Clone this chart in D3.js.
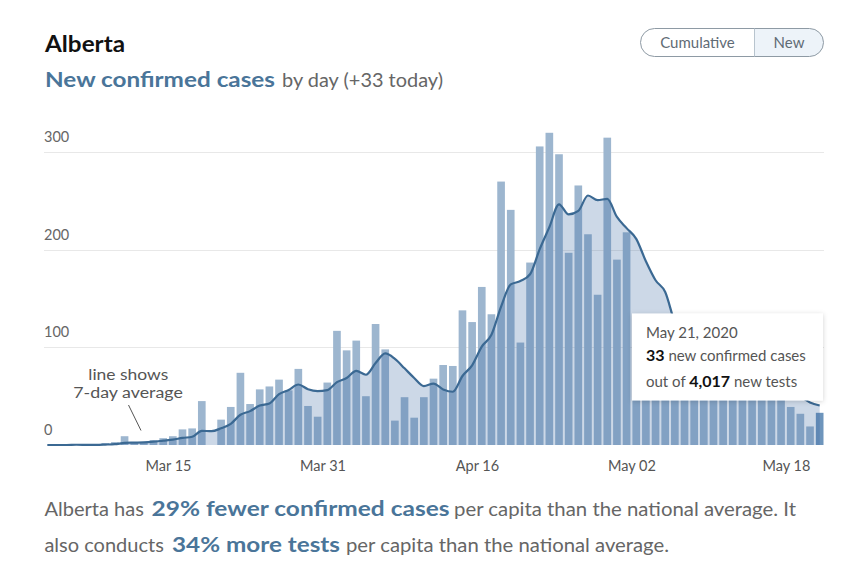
<!DOCTYPE html>
<html><head><meta charset="utf-8">
<script src="https://cdn.jsdelivr.net/npm/d3@7"></script>
<style>
html,body{margin:0;padding:0;background:#fff;}
svg{display:block;font-family:Lato,"Open Sans",sans-serif;}
</style></head>
<body>
<svg id="chart" width="862" height="564"></svg>
<script>
// ---------- data ----------
const startDate = "2020-03-02";
const endDate = "2020-05-21";
const newCases = [
  0,0,0,1,0,0,2,3,9,2,
  3,5,7,9,16,17,45,0,26,39,
  74,42,57,60,67,56,78,40,29,64,
  117,97,107,50,124,98,25,49,28,49,
  68,82,81,138,126,162,134,270,241,105,
  187,306,320,298,197,266,216,154,315,190,
  218,120,105,80,70,95,70,75,65,60,
  55,50,60,55,52,58,50,39,32,19,
  33
];
const yTicks = [0,100,200,300];
const xTickDates = ["2020-03-15","2020-03-31","2020-04-16","2020-05-02","2020-05-18"];
const xTickLabels = ["Mar 15","Mar 31","Apr 16","May 02","May 18"];
const tooltipDate = "May 21, 2020";
const tooltipCases = "33";
const tooltipTests = "4,017";

// ---------- setup ----------
const parse = d3.utcParse("%Y-%m-%d");
const dates = d3.utcDay.range(parse(startDate), d3.utcDay.offset(parse(endDate),1));
const data = dates.map((d,i)=>({date:d, value:newCases[i]}));
data.forEach((d,i)=>{
  const win = newCases.slice(Math.max(0,i-6), i+1);
  d.avg = d3.mean(win);
});

const svg = d3.select("#chart");
const x = d3.scaleUtc()
  .domain([dates[0], d3.utcDay.offset(dates[dates.length-1],1)])
  .range([42.5, 824.5]);
const step = x(dates[1]) - x(dates[0]);
const y = d3.scaleLinear().domain([0,300]).range([445,152.3]);

const steel = "#4a7599";
const gray = "#666";

// helper: text fitted to a measured span
function fitText(parent, xPos, yPos, width, str, attrs){
  const t = parent.append("text").attr("x",xPos).attr("y",yPos).text(str);
  Object.entries(attrs||{}).forEach(([k,v])=>t.attr(k,v));
  t.attr("textLength",width).attr("lengthAdjust","spacingAndGlyphs");
  return t;
}

// gridlines
svg.append("g").selectAll("line").data(yTicks.filter(t=>t>0)).join("line")
  .attr("x1",44).attr("x2",824)
  .attr("y1",d=>Math.round(y(d))+0.5).attr("y2",d=>Math.round(y(d))+0.5)
  .attr("stroke","#e8e8e8").attr("stroke-width",1);

// bars
svg.append("g").selectAll("rect").data(data).join("rect")
  .attr("x",d=>x(d.date)+1)
  .attr("width",step-2)
  .attr("y",d=>y(d.value))
  .attr("height",d=>y(0)-y(d.value))
  .attr("fill",(d,i)=> i===data.length-1 ? "#6e95bc" : "#9db6cf");

// area + line (7-day average)
const cx = d=>x(d.date)+step/2;
const curve = d3.curveMonotoneX;
svg.append("path").datum(data)
  .attr("d", d3.area().x(cx).y0(y(0)).y1(d=>y(d.avg)).curve(curve))
  .attr("fill","rgba(50,100,160,0.25)");
svg.append("path").datum(data)
  .attr("d", d3.line().x(cx).y(d=>y(d.avg)).curve(curve))
  .attr("fill","none").attr("stroke","#3b6993").attr("stroke-width",2.2);

// y labels
svg.append("g").selectAll("text").data(yTicks).join("text")
  .attr("x",44).attr("y",d=>y(d)-10)
  .attr("font-size",14.5).attr("fill",gray)
  .text(d=>d);

// x axis
const xAxis = d3.axisBottom(x)
  .tickValues(xTickDates.map(parse))
  .tickFormat((d,i)=>xTickLabels[i])
  .tickSize(0);
const gx = svg.append("g").attr("transform",`translate(0,${y(0)})`).call(xAxis);
gx.select(".domain").remove();
gx.selectAll("text").attr("y",26).attr("dy",null)
  .attr("font-size",14.5).attr("fill","#555").attr("font-family","Lato,'Open Sans',sans-serif");

// annotation
const ann = svg.append("g").attr("font-size",15.5).attr("fill","#555");
fitText(ann, 88.3, 380, 80, "line shows");
fitText(ann, 73.3, 397.5, 109.5, "7-day average");
svg.append("line").attr("x1",128.5).attr("y1",405).attr("x2",141).attr("y2",430.5)
  .attr("stroke","#555").attr("stroke-width",1);

// tooltip
const defs = svg.append("defs");
const f = defs.append("filter").attr("id","shadow").attr("x","-10%").attr("y","-20%").attr("width","120%").attr("height","140%");
f.append("feDropShadow").attr("dx",0).attr("dy",1).attr("stdDeviation",2.5).attr("flood-color","#000").attr("flood-opacity",0.18);
svg.append("rect").attr("x",632).attr("y",313.5).attr("width",191).attr("height",87)
  .attr("fill","#fff").attr("filter","url(#shadow)");
const tt = svg.append("g").attr("font-size",15).attr("fill","#555");
tt.append("text").attr("x",646).attr("y",337.5).text(tooltipDate);
const t2 = tt.append("text").attr("x",646).attr("y",361);
t2.append("tspan").attr("font-weight",700).attr("fill","#111").attr("font-size",16).text(tooltipCases);
t2.append("tspan").text(" new confirmed cases");
const t3 = tt.append("text").attr("x",646).attr("y",387);
t3.append("tspan").text("out of ");
t3.append("tspan").attr("font-weight",700).attr("fill","#111").attr("font-size",16).text(tooltipTests);
t3.append("tspan").text(" new tests");

// header
fitText(svg, 45, 51.5, 80, "Alberta", {"font-size":22.5,"font-weight":700,"fill":"#111"});
fitText(svg, 45, 86.5, 230, "New confirmed cases", {"font-size":21.5,"font-weight":700,"fill":steel});
fitText(svg, 282, 86.5, 161, "by day (+33 today)", {"font-size":18.5,"fill":gray});

// toggle
const clip = defs.append("clipPath").attr("id","pill");
clip.append("rect").attr("x",640.5).attr("y",28.5).attr("width",183).attr("height",28).attr("rx",14);
svg.append("rect").attr("x",754.5).attr("y",28).attr("width",70).attr("height",29)
  .attr("fill","#edf3f9").attr("clip-path","url(#pill)");
svg.append("rect").attr("x",640.5).attr("y",28.5).attr("width",183).attr("height",28).attr("rx",14)
  .attr("fill","none").attr("stroke","#8e9aa4").attr("stroke-width",1);
svg.append("line").attr("x1",754.5).attr("x2",754.5).attr("y1",28.5).attr("y2",56.5)
  .attr("stroke","#b8c4ce");
svg.append("text").attr("x",697.5).attr("y",47.5).attr("text-anchor","middle")
  .attr("font-size",15).attr("fill","#5f6b75").text("Cumulative");
svg.append("text").attr("x",789).attr("y",47.5).attr("text-anchor","middle")
  .attr("font-size",15).attr("fill","#5f6b75").text("New");

// footer
const reg = {"font-size":18.5,"fill":gray};
const bold = {"font-size":21.5,"font-weight":700,"fill":steel};
fitText(svg, 44.4, 516, 99.5, "Alberta has", reg);
fitText(svg, 151.5, 516, 298, "29% fewer confirmed cases", bold);
fitText(svg, 454, 516, 342, "per capita than the national average. It", reg);
fitText(svg, 44.4, 552, 119.5, "also conducts", reg);
fitText(svg, 172, 552, 168, "34% more tests", bold);
fitText(svg, 346, 552, 323, "per capita than the national average.", reg);
</script>
</body></html>
